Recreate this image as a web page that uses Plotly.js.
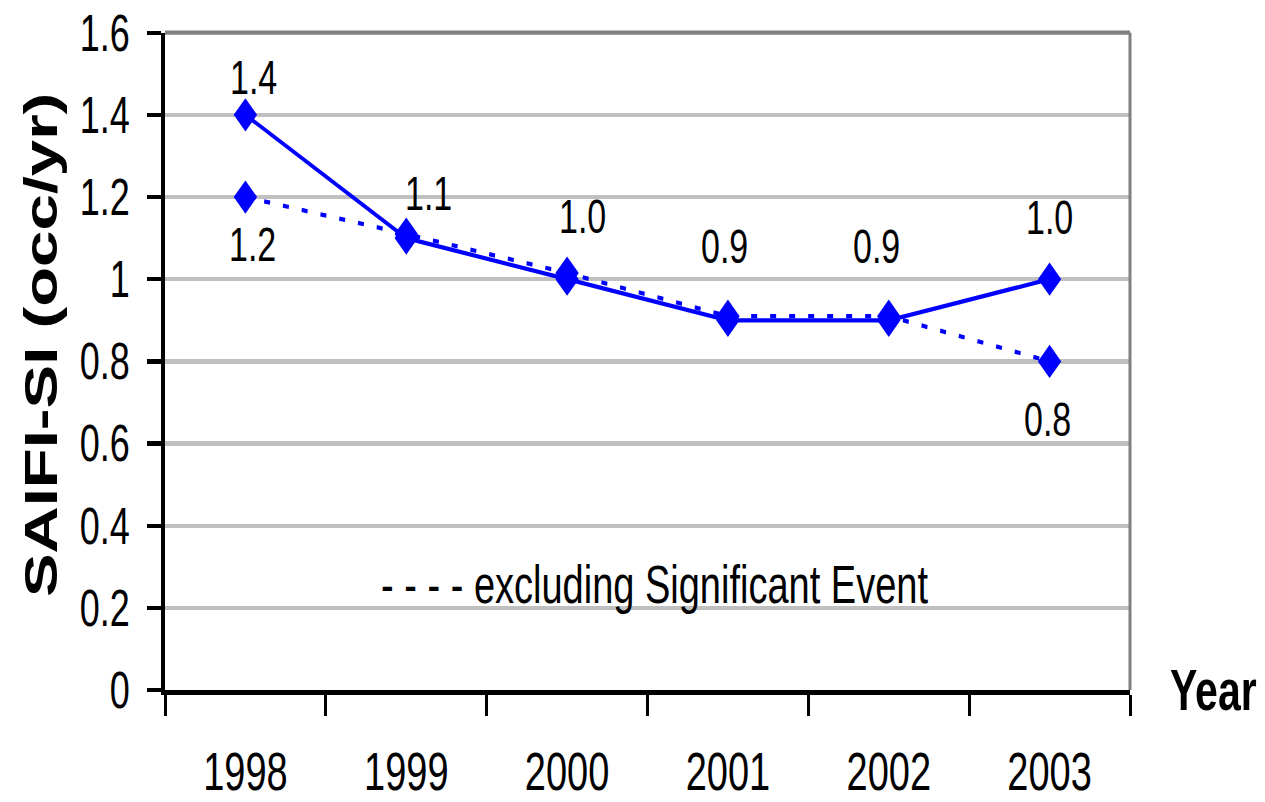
<!DOCTYPE html>
<html>
<head>
<meta charset="utf-8">
<script src="https://cdn.plot.ly/plotly-3.0.1.min.js"></script>
<style>
html,body{margin:0;padding:0;background:#fff;width:1265px;height:802px;}
#chart{width:1265px;height:565px;transform:scaleY(1.42);transform-origin:0 0;}
</style>
</head>
<body>
<div id="chart"></div>
<script>
// Data
const years = ['1998', '1999', '2000', '2001', '2002', '2003'];
const saifiAll = [1.4, 1.1, 1.0, 0.9, 0.9, 1.0];
const saifiExcl = [1.2, 1.11, 1.015, 0.91, 0.91, 0.8];
const labelsAll = ['1.4', '1.1', '1.0', '0.9', '0.9', '1.0'];
const labelsExclIdx = [0, 5];
const labelsExcl = ['1.2', '0.8'];
const yTicks = [0, 0.2, 0.4, 0.6, 0.8, 1, 1.2, 1.4, 1.6];
const yTickText = ['0', '0.2', '0.4', '0.6', '0.8', '1', '1.2', '1.4', '1.6'];

// Label offset styles (pixels)
const allShift = [[8, 27], [22, 32], [15, 45], [-3, 53], [-12, 53], [0, 44]];
const exclShift = [[7, -33], [-2, -40]];

const blue = '#0000ff';
const font = '"Liberation Sans", Arial, sans-serif';

const traces = [
  {
    x: years, y: saifiExcl, type: 'scatter', mode: 'lines+markers',
    line: {color: blue, width: 3, dash: '6px,13px'},
    marker: {symbol: 'diamond', size: 18, color: blue},
    hoverinfo: 'skip', showlegend: false
  },
  {
    x: years, y: saifiAll, type: 'scatter', mode: 'lines+markers',
    line: {color: blue, width: 3},
    marker: {symbol: 'diamond', size: 18, color: blue},
    hoverinfo: 'skip', showlegend: false
  }
];

// category axis: annotation x uses the category's serial index
const annotations = [];
years.forEach((yr, i) => {
  annotations.push({
    x: i, y: saifiAll[i], xref: 'x', yref: 'y', text: labelsAll[i],
    showarrow: false, xshift: allShift[i][0], yshift: allShift[i][1],
    font: {family: font, size: 34, color: '#000'}
  });
});
labelsExclIdx.forEach((idx, j) => {
  annotations.push({
    x: idx, y: saifiExcl[idx], xref: 'x', yref: 'y', text: labelsExcl[j],
    showarrow: false, xshift: exclShift[j][0], yshift: exclShift[j][1],
    font: {family: font, size: 34, color: '#000'}
  });
});
annotations.push({
  x: 0.5, y: 0.255, xref: 'paper', yref: 'y', xanchor: 'center', yanchor: 'middle',
  xshift: 7, text: '- - - - excluding Significant Event', showarrow: false,
  font: {family: font, size: 38, color: '#000'}
});
annotations.push({
  x: 1, y: 0, xref: 'paper', yref: 'paper', xanchor: 'left', yanchor: 'middle',
  xshift: 38, text: '<b>Year</b>', showarrow: false,
  font: {family: font, size: 41, color: '#000'}
});
annotations.push({
  x: 0, y: 0.5, xref: 'paper', yref: 'paper', xanchor: 'center', yanchor: 'middle',
  xshift: -124, yshift: 11, textangle: -90, text: '<b>SAIFI-SI (occ/yr)</b>', showarrow: false,
  font: {family: font, size: 46, color: '#000'}
});

const layout = {
  width: 1265, height: 565,
  margin: {l: 165, r: 135, t: 22.5, b: 79},
  paper_bgcolor: '#fff', plot_bgcolor: '#fff',
  showlegend: false,
  xaxis: {
    type: 'category', range: [-0.5, 5.5],
    showline: true, linecolor: '#000', linewidth: 3.5,
    ticks: 'outside', tickson: 'boundaries', ticklen: 15, tickwidth: 3, tickcolor: '#000',
    ticklabelstandoff: 21,
    tickfont: {family: font, size: 38, color: '#000'},
    showgrid: false, zeroline: false, fixedrange: true
  },
  yaxis: {
    range: [0, 1.6], tickvals: yTicks, ticktext: yTickText,
    showline: true, linecolor: '#000', linewidth: 4,
    ticks: 'outside', ticklen: 14, tickwidth: 3, tickcolor: '#000',
    ticklabelstandoff: 10,
    tickfont: {family: font, size: 36, color: '#000'},
    showgrid: true, gridcolor: '#c0c0c0', gridwidth: 3,
    zeroline: false, fixedrange: true
  },
  shapes: [
    {type: 'line', xref: 'paper', yref: 'paper', x0: 0, x1: 1, y0: 1, y1: 1,
     line: {color: '#808080', width: 3}, layer: 'above'},
    {type: 'line', xref: 'paper', yref: 'paper', x0: 1, x1: 1, y0: 0, y1: 1,
     line: {color: '#808080', width: 3}, layer: 'above'}
  ],
  annotations: annotations
};

Plotly.newPlot('chart', traces, layout, {displayModeBar: false, staticPlot: true});
</script>
</body>
</html>
